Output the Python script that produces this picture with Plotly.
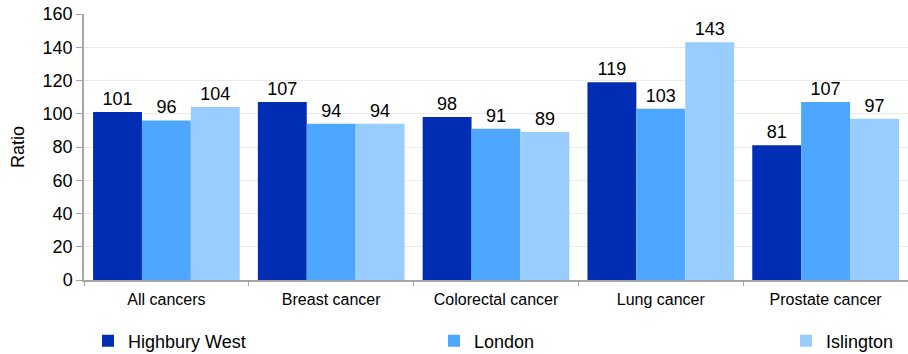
import plotly.graph_objects as go

categories = ["All cancers", "Breast cancer", "Colorectal cancer", "Lung cancer", "Prostate cancer"]
highbury_west = [101, 107, 98, 119, 81]
london = [96, 94, 91, 103, 107]
islington = [104, 94, 89, 143, 97]
series_names = ["Highbury West", "London", "Islington"]
colors = ["#002DB3", "#4DA6FF", "#99CCFF"]
legend_ids = ["legend", "legend2", "legend3"]
legend_x_px = [88, 434, 786]

fig = go.Figure()
for name, vals, col, lid in zip(series_names, [highbury_west, london, islington], colors, legend_ids):
    fig.add_trace(go.Bar(
        x=categories, y=vals, name=name, marker_color=col, marker_line_width=0,
        text=[str(v) for v in vals], textposition="outside", cliponaxis=False,
        textfont=dict(size=18, color="#000000"), legend=lid,
    ))

W, H = 908, 354
legend_common = dict(orientation="h", xanchor="left", yanchor="middle",
                     xref="container", yref="container", y=13 / H,
                     font=dict(size=18), itemwidth=30, bgcolor="rgba(0,0,0,0)")
layout_legends = {}
for lid, xp in zip(legend_ids, legend_x_px):
    layout_legends[lid] = dict(legend_common, x=xp / W)

fig.update_layout(
    width=W, height=H,
    margin=dict(l=84, r=0, t=14, b=74, autoexpand=False),
    paper_bgcolor="white", plot_bgcolor="white",
    font=dict(family="Liberation Sans, Arial, sans-serif", color="#000000"),
    barmode="group", bargap=0.11, bargroupgap=0,
    showlegend=True,
    **layout_legends,
)
fig.update_xaxes(
    showline=True, linecolor="#a6a6a6", linewidth=1.5,
    ticks="outside", tickson="boundaries", ticklen=4, tickcolor="#a6a6a6",
    tickfont=dict(size=16), showgrid=False, automargin=False,
    ticklabelstandoff=4,
)
fig.update_yaxes(
    range=[0, 160], dtick=20, showline=True, linecolor="#a6a6a6", linewidth=1.5,
    ticks="outside", ticklen=6, tickcolor="#a6a6a6",
    showgrid=True, gridcolor="#ebebeb", gridwidth=1,
    tickfont=dict(size=18), zeroline=False, automargin=False,
    title=dict(text="Ratio", font=dict(size=18), standoff=13),
)

fig.write_html("out.html", config={"displayModeBar": False},
               post_script="document.body.style.margin='0';")
